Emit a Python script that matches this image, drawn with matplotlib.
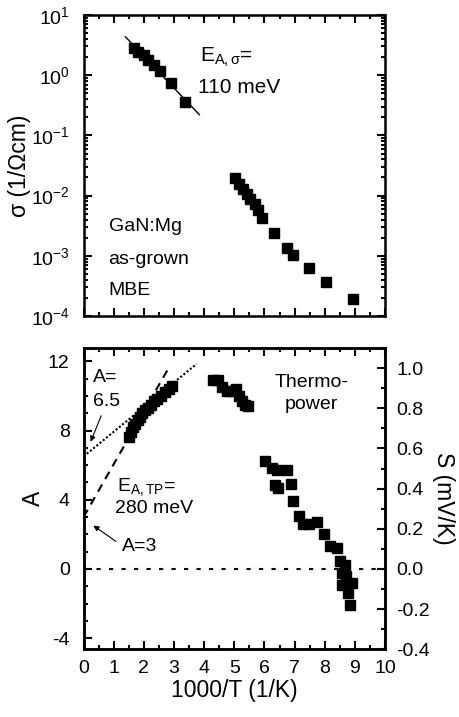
#%% imports
import numpy as np
import matplotlib.pyplot as plt
from matplotlib.ticker import MultipleLocator, LogLocator, NullFormatter

plt.rcParams['font.family'] = ['Liberation Sans', 'DejaVu Sans']
plt.rcParams['mathtext.fontset'] = 'custom'
plt.rcParams['mathtext.rm'] = 'Liberation Sans'
plt.rcParams['mathtext.it'] = 'Liberation Sans'
plt.rcParams['mathtext.bf'] = 'Liberation Sans:bold'
plt.rcParams['axes.unicode_minus'] = False
plt.rcParams['xtick.direction'] = 'in'
plt.rcParams['ytick.direction'] = 'in'

#%% data: conductivity (top)
x_sig_hi = [1.66, 1.82, 1.99, 2.15, 2.32, 2.55, 2.91, 3.38]
sig_hi = [2.84, 2.44, 2.18, 1.80, 1.48, 1.18, 0.75, 0.36]
x_sig_lo = [5.03, 5.17, 5.29, 5.42, 5.53, 5.67, 5.77, 5.92, 6.30, 6.75, 6.96, 7.46, 8.05, 8.93]
sig_lo = [0.0198, 0.0157, 0.0130, 0.0105, 0.00865, 0.00714, 0.00575, 0.0042,
          0.00243, 0.00137, 0.00102, 0.000616, 0.00037, 0.000191]
x_sig_fit = [1.39, 3.84]
sig_fit = [4.33, 0.221]

#%% data: thermopower (bottom), A = S/(k/e)
x_A = [1.50, 1.58, 1.65, 1.72, 1.80, 1.88, 1.95, 2.05, 2.15, 2.25, 2.35, 2.45, 2.58,
       2.70, 2.82, 2.95,
       4.30, 4.45, 4.60, 4.75, 4.90, 5.05, 5.15, 5.25, 5.35, 5.45,
       6.02, 6.24, 6.41, 6.74, 6.35, 6.46, 6.87, 6.94, 7.16, 7.29, 7.46, 7.74,
       7.98, 8.18, 8.40, 8.49, 8.67, 8.56, 8.71, 8.56, 8.90, 8.78, 8.84]
A_val = [7.6, 7.9, 8.2, 8.4, 8.6, 8.8, 9.0, 9.2, 9.3, 9.5, 9.7, 9.8, 10.0,
         10.2, 10.4, 10.6,
         10.9, 10.9, 10.5, 10.3, 10.3, 10.4, 10.0, 9.7, 9.5, 9.4,
         6.22, 5.84, 5.74, 5.70, 4.87, 4.68, 4.93, 3.91, 3.08, 2.62, 2.62, 2.69,
         2.04, 1.31, 1.21, 0.44, 0.25, -0.23, -0.43, -0.91, -0.81, -1.39, -2.06]
x_fit_65 = [0.0, 3.75]
A_fit_65 = [6.5, 11.85]
x_fit_3 = [0.0, 2.85]
A_fit_3 = [3.0, 11.7]
k_over_e = 0.08617  # mV/K
S_lim = (-0.4, 1.10)

#%% figure
fig = plt.figure(figsize=(4.59, 7.17), dpi=100)
ax1 = fig.add_axes([0.182, 0.5593, 0.657, 0.4198])
ax2 = fig.add_axes([0.182, 0.0944, 0.657, 0.4202])

fs_tick = 14
fs_lab = 16.5
fs_txt = 14

def style_x(ax):
    ax.set_xlim(0, 10)
    ax.xaxis.set_major_locator(MultipleLocator(1))
    ax.xaxis.set_minor_locator(MultipleLocator(0.5))
    for s in ax.spines.values():
        s.set_linewidth(1.8)

#%% top panel
ax1.semilogy(x_sig_fit, sig_fit, color='k', lw=1.0)
ax1.semilogy(x_sig_hi, sig_hi, 's', color='k', ms=6.5)
ax1.semilogy(x_sig_lo, sig_lo, 's', color='k', ms=6.5)
ax1.set_ylim(1e-4, 1e1)
style_x(ax1)
ax1.yaxis.set_major_locator(LogLocator(base=10, numticks=10))
ax1.yaxis.set_minor_locator(LogLocator(base=10, subs=np.arange(2, 10), numticks=20))
ax1.yaxis.set_minor_formatter(NullFormatter())
ax1.tick_params(which='both', direction='in', top=True, right=True, width=1.5)
ax1.tick_params(which='major', length=6, labelsize=fs_tick, pad=10)
ax1.tick_params(which='minor', length=3)
ax1.tick_params(axis='x', labelbottom=False)
ax1.set_ylabel('σ (1/Ωcm)', fontsize=fs_lab, labelpad=0)

ax1.text(3.87, 2.0, r'E$_{\mathregular{A,}\sigma}$=', fontsize=15, va='center')
ax1.text(3.80, 0.62, '110 meV', fontsize=15, va='center')
ax1.text(0.83, 10**-2.52, 'GaN:Mg', fontsize=fs_txt, va='center')
ax1.text(0.83, 10**-3.07, 'as-grown', fontsize=fs_txt, va='center')
ax1.text(0.83, 10**-3.57, 'MBE', fontsize=fs_txt, va='center')

#%% bottom panel
A_lim = (S_lim[0] / k_over_e, S_lim[1] / k_over_e)
ax2.axhline(0, color='k', lw=1.5, ls=(0, (2, 4)))
ax2.plot(x_fit_65, A_fit_65, color='k', lw=1.5, ls=(0, (1, 1)))
ax2.plot(x_fit_3, A_fit_3, color='k', lw=1.5, ls=(0, (4, 3)))
ax2.plot(x_A, A_val, 's', color='k', ms=6.5)
ax2.set_ylim(*A_lim)
style_x(ax2)
ax2.yaxis.set_major_locator(MultipleLocator(4))
ax2.yaxis.set_minor_locator(MultipleLocator(1))
ax2.tick_params(which='both', direction='in', top=True, right=False, width=1.5)
ax2.tick_params(which='major', length=6, labelsize=fs_tick)
ax2.tick_params(which='minor', length=3)
ax2.tick_params(axis='y', pad=10)
ax2.tick_params(axis='x', pad=8)
ax2.set_xlabel('1000/T (1/K)', fontsize=fs_lab, labelpad=1)
ax2.set_ylabel('A', fontsize=fs_lab, labelpad=2)

ax2.text(0.32, 11.05, 'A=', fontsize=fs_txt, va='center')
ax2.text(0.30, 9.7, '6.5', fontsize=fs_txt, va='center')
ax2.annotate('', xy=(0.2, 7.2), xytext=(0.62, 9.0),
             arrowprops=dict(arrowstyle='-|>', color='k', lw=0.8, mutation_scale=8))
ax2.text(1.10, 4.75, r'E$_{\mathregular{A,TP}}$=', fontsize=fs_txt, va='center')
ax2.text(1.05, 3.5, '280 meV', fontsize=fs_txt, va='center')
ax2.text(1.28, 1.3, 'A=3', fontsize=fs_txt, va='center')
ax2.annotate('', xy=(0.25, 2.6), xytext=(1.15, 1.5),
             arrowprops=dict(arrowstyle='-|>', color='k', lw=0.8, mutation_scale=8))
ax2.text(7.55, 10.8, 'Thermo-', fontsize=fs_txt, va='center', ha='center')
ax2.text(7.55, 9.5, 'power', fontsize=fs_txt, va='center', ha='center')

ax3 = ax2.twinx()
ax3.set_ylim(*S_lim)
ax3.yaxis.set_major_locator(MultipleLocator(0.2))
ax3.yaxis.set_minor_locator(MultipleLocator(0.1))
ax3.tick_params(which='both', direction='in', width=1.5)
ax3.tick_params(which='major', length=6, labelsize=fs_tick, pad=8)
ax3.tick_params(which='minor', length=3)
ax3.yaxis.set_major_formatter(plt.FuncFormatter(lambda v, p: '%.1f' % v))
ax3.set_ylabel('S (mV/K)', fontsize=fs_lab, rotation=-90, labelpad=18)
for s in ax3.spines.values():
    s.set_linewidth(1.8)

fig.savefig('out.png', dpi=100)
